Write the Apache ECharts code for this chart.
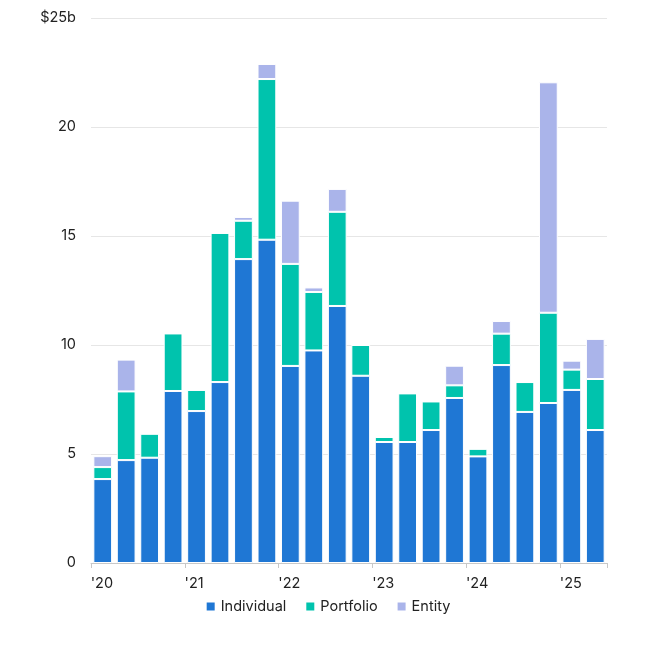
<!DOCTYPE html>
<html><head><meta charset="utf-8">
<script src="https://cdn.jsdelivr.net/npm/echarts@6/dist/echarts.min.js"></script>
<style>html,body{margin:0;padding:0;background:#fff}#c{width:655px;height:650px}</style>
</head><body><div id="c"></div>
<script>
const categories = ["Q1 2020","Q2 2020","Q3 2020","Q4 2020","Q1 2021","Q2 2021","Q3 2021","Q4 2021","Q1 2022","Q2 2022","Q3 2022","Q4 2022","Q1 2023","Q2 2023","Q3 2023","Q4 2023","Q1 2024","Q2 2024","Q3 2024","Q4 2024","Q1 2025","Q2 2025"];
const yearLabels = ["'20","'21","'22","'23","'24","'25"];
const individual = [3.85,4.72,4.83,7.89,6.97,8.30,13.94,14.83,9.04,9.75,11.79,8.59,5.55,5.55,6.10,7.57,4.89,9.08,6.93,7.34,7.94,6.10];
const portfolio  = [0.55,3.15,1.10,2.64,0.97,6.84,1.76,7.37,4.68,2.68,4.32,1.41,0.23,2.23,1.31,0.58,0.35,1.44,1.37,4.14,0.93,2.34];
const entity     = [0.50,1.46,0,0,0,0,0.17,0.69,2.90,0.21,1.05,0,0,0,0,0.90,0,0.58,0,10.57,0.41,1.84];
const yTicks = [0,5,10,15,20,25];

const chart = echarts.init(document.getElementById('c'));
const font = 'Inter, "Noto Sans", sans-serif';
function mk(name, data, color){
  return {name, type:'bar', stack:'total', data, barWidth:'80%',
    itemStyle:{color, borderColor:'#ffffff', borderWidth:1},
    emphasis:{disabled:true}};
}
chart.setOption({
  animation:false,
  textStyle:{fontFamily:font},
  grid:{left:91,right:48,top:18,bottom:87,containLabel:false},
  legend:{bottom:31,left:'center',itemWidth:10,itemHeight:10,itemGap:18,icon:'rect',
    textStyle:{fontFamily:font,fontSize:14.5,color:'#222'}, data:['Individual','Portfolio','Entity']},
  xAxis:{type:'category',data:categories,
    axisLine:{lineStyle:{color:'#c8c8c8'}},
    axisTick:{show:true,interval:function(i){return i%4===0;},length:5,lineStyle:{color:'#c8c8c8'}},
    axisLabel:{interval:function(i){return i%4===0;},
      formatter:function(v,i){return yearLabels[Math.floor(i/4)];},
      align:'left',padding:[0,0,0,-12],margin:13,fontSize:14.5,color:'#222',fontFamily:font}},
  yAxis:{type:'value',min:0,max:25,interval:5,
    axisLine:{show:false},axisTick:{show:false},
    splitLine:{lineStyle:{color:'#e6e6e6'}},
    axisLabel:{margin:15,fontSize:14.5,color:'#222',fontFamily:font,
      formatter:function(v){return v===yTicks[yTicks.length-1]?'$'+v+'b':String(v);}}},
  series:[mk('Individual',individual,'#1f77d4'),mk('Portfolio',portfolio,'#00c3ad'),mk('Entity',entity,'#aab4ea')]
});
</script></body></html>
